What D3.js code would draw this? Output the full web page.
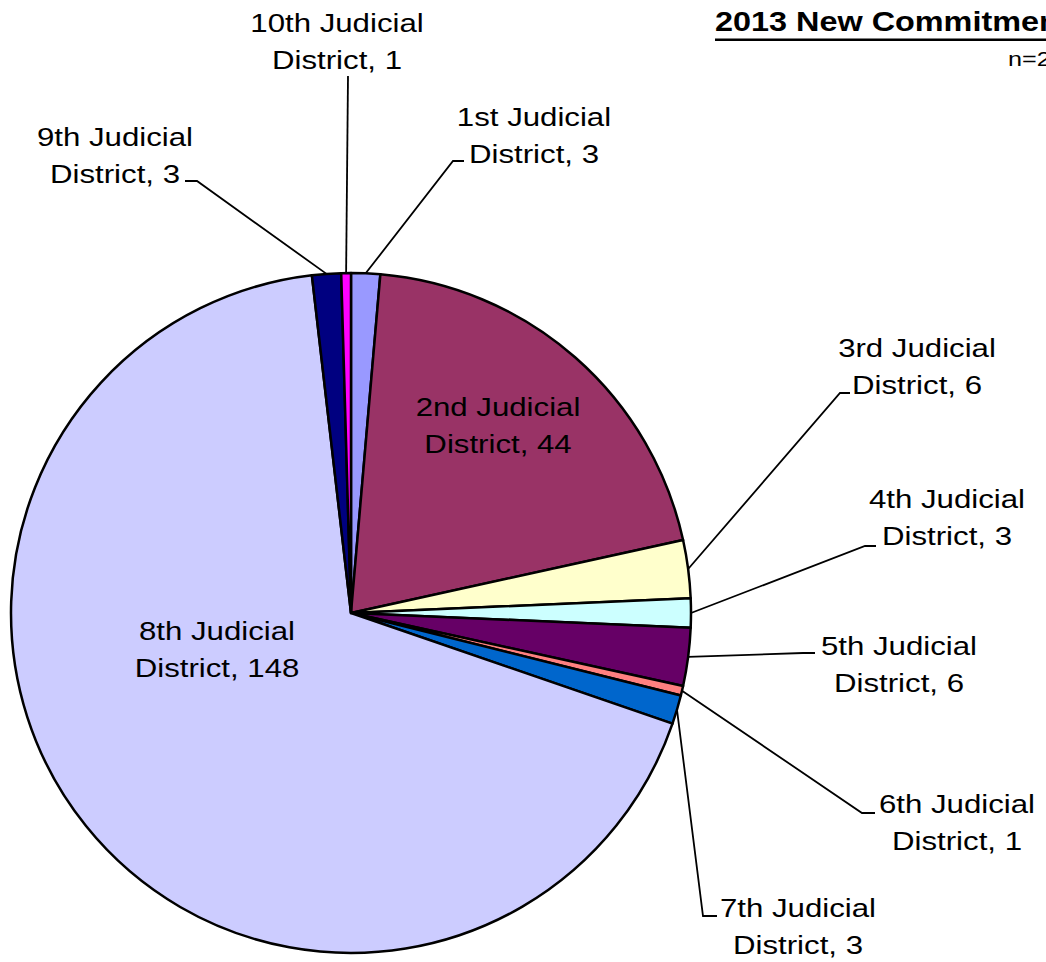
<!DOCTYPE html>
<html>
<head>
<meta charset="utf-8">
<script src="https://cdn.jsdelivr.net/npm/d3@7"></script>
<style>
  html, body { margin: 0; padding: 0; background: #fff; }
  svg { display: block; }
  text { font-family: "Liberation Sans", Arial, sans-serif; fill: #000; }
</style>
</head>
<body>
<svg id="chart" width="1046" height="962"></svg>
<script>
// District commitment counts, clockwise from 12 o'clock
const districts = ["1st", "2nd", "3rd", "4th", "5th", "6th", "7th", "8th", "9th", "10th"];
const commitments = [3, 44, 6, 3, 6, 1, 3, 148, 3, 1];
const sliceColors = ["#9999FF", "#993366", "#FFFFCC", "#CCFFFF", "#660066",
                     "#FF8080", "#0066CC", "#CCCCFF", "#000080", "#FF00FF"];
const chartTitle = "2013 New Commitments";

// Label placement: text centre + first baseline; leader elbow/end (null = label inside slice)
const labelLayout = [
  { x: 534, y: 126, leader: [[453, 161], [464, 161]] },
  { x: 498, y: 416, leader: null },
  { x: 917, y: 357, leader: [[840, 393], [850, 393]] },
  { x: 947, y: 508, leader: [[865, 546], [876, 546]] },
  { x: 899, y: 655, leader: [[803, 653], [815, 653]] },
  { x: 957, y: 813, leader: [[862, 813], [875, 813]] },
  { x: 798, y: 917, leader: [[703, 916], [717, 916]] },
  { x: 217, y: 640, leader: null },
  { x: 115, y: 146, leader: [[197, 181], [185, 181]] },
  { x: 337, y: 32,  leader: [[348, 76]] }
];

const svg = d3.select("#chart");
const cx = 351, cy = 613, radius = 340;
const stretch = 1.2;      // label glyphs are drawn slightly wide
const fontSize = 26;
const lineGap = 36.5;

const total = d3.sum(commitments);
const data = districts.map((d, i) => ({ name: d, value: commitments[i], color: sliceColors[i], i }));

const pie = d3.pie().value(d => d.value).sort(null);
const arcs = pie(data);
const arc = d3.arc().innerRadius(0).outerRadius(radius);

const g = svg.append("g").attr("transform", `translate(${cx},${cy})`);

g.selectAll("path.slice")
  .data(arcs)
  .join("path")
  .attr("class", "slice")
  .attr("d", arc)
  .attr("fill", d => d.data.color)
  .attr("stroke", "#000")
  .attr("stroke-width", 2.5)
  .attr("stroke-linejoin", "round");

// Leader lines from the slice edge to the label
const line = d3.line();
arcs.forEach((a, i) => {
  const lay = labelLayout[i];
  if (!lay.leader) return;
  const mid = (a.startAngle + a.endAngle) / 2;
  const edge = [cx + radius * Math.sin(mid), cy - radius * Math.cos(mid)];
  svg.append("path")
    .attr("d", line([edge, ...lay.leader]))
    .attr("fill", "none")
    .attr("stroke", "#000")
    .attr("stroke-width", 1.8);
});

// Two-line data labels
arcs.forEach((a, i) => {
  const lay = labelLayout[i];
  const lines = [`${a.data.name} Judicial`, `District, ${a.data.value}`];
  lines.forEach((txt, k) => {
    svg.append("text")
      .attr("transform", `translate(${lay.x},${lay.y + k * lineGap}) scale(${stretch},1)`)
      .attr("text-anchor", "middle")
      .attr("font-size", fontSize)
      .text(txt);
  });
});

// Title, underlined, and the total count
const title = svg.append("text")
  .attr("transform", `translate(715,31) scale(${stretch},1)`)
  .attr("font-size", 27)
  .attr("font-weight", "bold")
  .text(chartTitle);
const titleWidth = title.node().getComputedTextLength() * stretch;
svg.append("rect")
  .attr("x", 715).attr("y", 38.5)
  .attr("width", titleWidth).attr("height", 2.5)
  .attr("fill", "#000");

svg.append("text")
  .attr("transform", `translate(1008,66) scale(${stretch},1)`)
  .attr("font-size", 21)
  .text(`n=${total}`);
</script>
</body>
</html>
